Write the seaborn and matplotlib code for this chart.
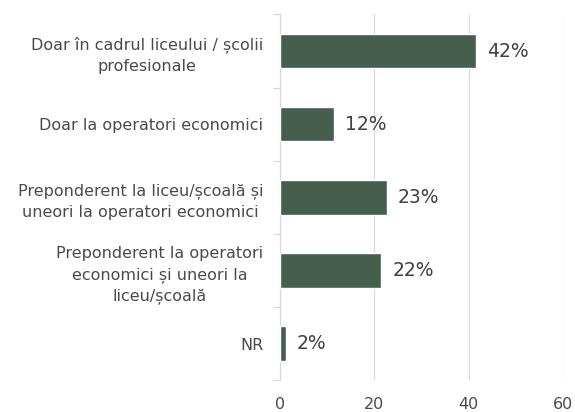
import matplotlib
matplotlib.use("Agg")
import matplotlib.pyplot as plt
import seaborn as sns
import pandas as pd

# date din grafic
categorii = [
    "Doar în cadrul liceului / școlii\nprofesionale",
    "Doar la operatori economici",
    "Preponderent la liceu/școală și\nuneori la operatori economici",
    "Preponderent la operatori\neconomici și uneori la\nliceu/școală",
    "NR",
]
valori = [41.6, 11.5, 22.6, 21.5, 1.3]
etichete = ["42%", "12%", "23%", "22%", "2%"]

df = pd.DataFrame({"Categorie": categorii, "Procent": valori})

sns.set_style("white")
plt.rcParams['font.family'] = ['DejaVu Sans']

fig = plt.figure(figsize=(5.75, 4.12), dpi=100)
ax = fig.add_axes([0.487, 0.077, 0.492, 0.888])

sns.barplot(data=df, x="Procent", y="Categorie", color="#465e4e",
            saturation=1, width=0.47, ax=ax, zorder=3)

for i, txt in enumerate(etichete):
    ax.text(valori[i] + 2.3, i, txt, va="center", ha="left",
            fontsize=13.5, color="#404040")

ax.set_xlim(0, 60)
ax.set_ylim(4.5, -0.5)
ax.set_xticks([0, 20, 40, 60])
ax.set_xlabel("")
ax.set_ylabel("")
ax.grid(axis="x", color="#d9d9d9", linewidth=0.9, zorder=0)
ax.grid(axis="y", visible=False)

for s in ["top", "right", "bottom"]:
    ax.spines[s].set_visible(False)
ax.spines["left"].set_color("#d9d9d9")
ax.spines["left"].set_linewidth(0.9)

ax.set_yticks(range(len(categorii)))
ax.set_yticklabels(categorii, ha="right", multialignment="center", linespacing=1.45)
ax.tick_params(axis="y", length=0, pad=12, labelsize=11.5, labelcolor="#4a4a4a")
ax.set_yticks([i - 0.5 for i in range(len(categorii) + 1)], minor=True)
ax.tick_params(axis="y", which="minor", left=True, length=5, color="#d9d9d9", width=0.9)
ax.tick_params(axis="x", length=0, pad=12, labelsize=11.5, labelcolor="#4a4a4a")

plt.savefig("out.png", dpi=100)
